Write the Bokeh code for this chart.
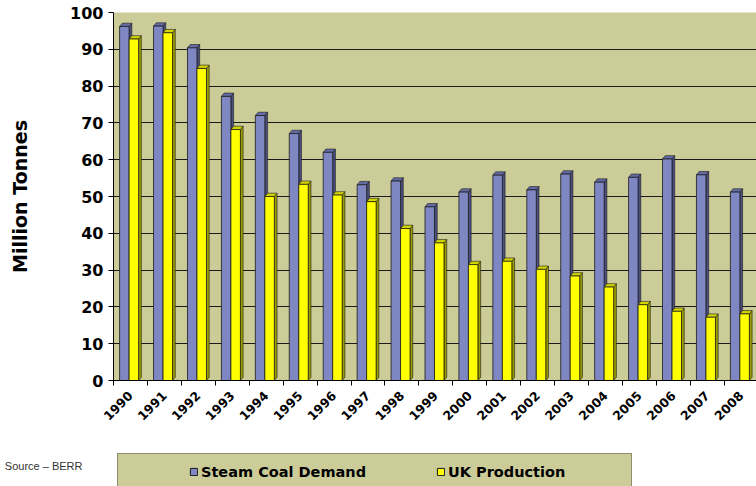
import numpy as np
from math import pi
from bokeh.plotting import figure
from bokeh.layouts import column
from bokeh.models import Range1d, FixedTicker, Legend, LegendItem
from bokeh.embed import file_html
from bokeh.resources import INLINE

# ---- data ----
years = ["1990", "1991", "1992", "1993", "1994", "1995", "1996", "1997", "1998", "1999",
         "2000", "2001", "2002", "2003", "2004", "2005", "2006", "2007", "2008"]
demand = [96.2, 96.3, 90.4, 77.2, 72.0, 67.1, 62.0, 53.2, 54.2, 47.2,
          51.2, 55.8, 51.8, 56.1, 53.9, 55.2, 60.2, 55.9, 51.2]
production = [92.8, 94.5, 84.8, 68.2, 50.0, 53.3, 50.4, 48.6, 41.3, 37.4,
              31.5, 32.4, 30.2, 28.4, 25.4, 20.6, 18.8, 17.2, 18.1]
y_ticks = [0, 10, 20, 30, 40, 50, 60, 70, 80, 90, 100]
series_names = ["Steam Coal Demand", "UK Production"]
source_note = "Source – BERR"

# ---- style ----
BG = "#CCCC99"
OUT = "#1a1a1a"
BLUE_FRONT, BLUE_SIDE, BLUE_TOP = "#7F87C3", "#4B5081", "#646CA6"
YEL_FRONT, YEL_SIDE, YEL_TOP = "#FFFF00", "#9C9C00", "#D4D400"
BAR_W = 0.28
DX, DY = 0.08, 0.9  # 3D depth offsets (category units, value units)

n = len(years)
idx = np.arange(n)

p = figure(width=756, height=445, x_range=Range1d(0, 18.95), y_range=Range1d(0, 100),
           output_backend="svg", toolbar_location=None,
           min_border_left=113, min_border_right=0, min_border_top=12, min_border_bottom=65,
           background_fill_color=BG, border_fill_color="white", outline_line_color=None)


def bar3d(left, values, front, side, top):
    left = np.asarray(left, dtype=float)
    right = left + BAR_W
    vals = np.asarray(values, dtype=float)
    side_xs = [[r, r + DX, r + DX, r] for r in right]
    side_ys = [[0, DY, v + DY, v] for v in vals]
    top_xs = [[l, l + DX, r + DX, r] for l, r in zip(left, right)]
    top_ys = [[v, v + DY, v + DY, v] for v in vals]
    p.patches(side_xs, side_ys, fill_color=side, line_color=OUT, line_width=0.6)
    p.patches(top_xs, top_ys, fill_color=top, line_color=OUT, line_width=0.6)
    return p.quad(left=left, right=right, bottom=0, top=vals,
                  fill_color=front, line_color=OUT, line_width=0.8)


blue_r = bar3d(idx + 0.18, demand, BLUE_FRONT, BLUE_SIDE, BLUE_TOP)
yel_r = bar3d(idx + 0.18 + BAR_W, production, YEL_FRONT, YEL_SIDE, YEL_TOP)

# ---- axes ----
xa = p.xaxis[0]
xa.ticker = FixedTicker(ticks=list(idx + 0.5), minor_ticks=list(range(n + 1)))
xa.major_label_overrides = {float(i) + 0.5: years[i] for i in range(n)}
xa.major_tick_line_color = None
xa.major_tick_out = 0
xa.major_tick_in = 0
xa.minor_tick_line_color = "black"
xa.minor_tick_out = 5
xa.minor_tick_in = 0
xa.major_label_orientation = pi / 4
xa.major_label_standoff = 8
xa.major_label_text_font = "DejaVu Sans"
xa.major_label_text_font_style = "bold"
xa.major_label_text_font_size = "12.5px"
xa.major_label_text_color = "black"
xa.axis_line_color = "black"

ya = p.yaxis[0]
ya.ticker = FixedTicker(ticks=y_ticks)
ya.minor_tick_line_color = None
ya.major_tick_out = 5
ya.major_tick_in = 0
ya.major_tick_line_color = "black"
ya.axis_line_color = "black"
ya.major_label_standoff = 5
ya.major_label_text_font = "DejaVu Sans"
ya.major_label_text_font_style = "bold"
ya.major_label_text_font_size = "16px"
ya.major_label_text_color = "black"
ya.axis_label = "Million Tonnes"
ya.axis_label_text_font = "DejaVu Sans"
ya.axis_label_text_font_style = "bold"
ya.axis_label_text_font_size = "19px"
ya.axis_label_text_color = "black"
ya.axis_label_standoff = 36

p.xgrid.grid_line_color = None
p.ygrid.ticker = FixedTicker(ticks=y_ticks)
p.ygrid.grid_line_color = OUT
p.ygrid.grid_line_width = 1.2

# ---- bottom strip: source note + legend (frame aligned with the chart's frame) ----
q = figure(width=756, height=41, x_range=Range1d(0, 643), y_range=Range1d(0, 41),
           output_backend="svg", toolbar_location=None,
           min_border_left=113, min_border_right=0, min_border_top=0, min_border_bottom=0,
           x_axis_location=None, y_axis_location="left",
           background_fill_color="white", border_fill_color="white", outline_line_color=None)
q.grid.visible = False
qa = q.yaxis[0]
qa.ticker = FixedTicker(ticks=[21])
qa.major_label_overrides = {21: source_note}
qa.axis_line_color = None
qa.major_tick_line_color = None
qa.minor_tick_line_color = None
qa.major_tick_out = 0
qa.major_tick_in = 0
qa.major_label_standoff = 31
qa.major_label_text_font = "Liberation Sans"
qa.major_label_text_font_style = "normal"
qa.major_label_text_font_size = "11px"
qa.major_label_text_color = "#333333"

dummy = q.quad(left=[0], right=[0], top=[0], bottom=[0], fill_alpha=0, line_alpha=0)
leg_box = Legend(items=[LegendItem(label="", renderers=[dummy])], location=(4, -9),
                 padding=10, margin=0, glyph_width=20, glyph_height=20,
                 label_height=20, label_width=468, label_standoff=5,
                 background_fill_color=BG, background_fill_alpha=1,
                 border_line_color="#4d4d4d", border_line_width=1.5)
q.add_layout(leg_box)

lg_blue = q.quad(left=[0], right=[0], top=[0], bottom=[0], fill_color=BLUE_FRONT, line_color=OUT)
lg_yel = q.quad(left=[0], right=[0], top=[0], bottom=[0], fill_color=YEL_FRONT, line_color=OUT)
leg = Legend(items=[LegendItem(label=series_names[0], renderers=[lg_blue]),
                    LegendItem(label=series_names[1], renderers=[lg_yel])],
             orientation="horizontal", location=(76, 6), padding=0, spacing=0, margin=0,
             glyph_width=9, glyph_height=9, label_standoff=3, label_width=235, label_height=17,
             label_text_font="DejaVu Sans", label_text_font_style="bold",
             label_text_font_size="14.5px", label_text_color="black",
             background_fill_alpha=0, border_line_color=None)
q.add_layout(leg)

layout = column(p, q, spacing=0)
open("out.html", "w").write(file_html(layout, INLINE))
